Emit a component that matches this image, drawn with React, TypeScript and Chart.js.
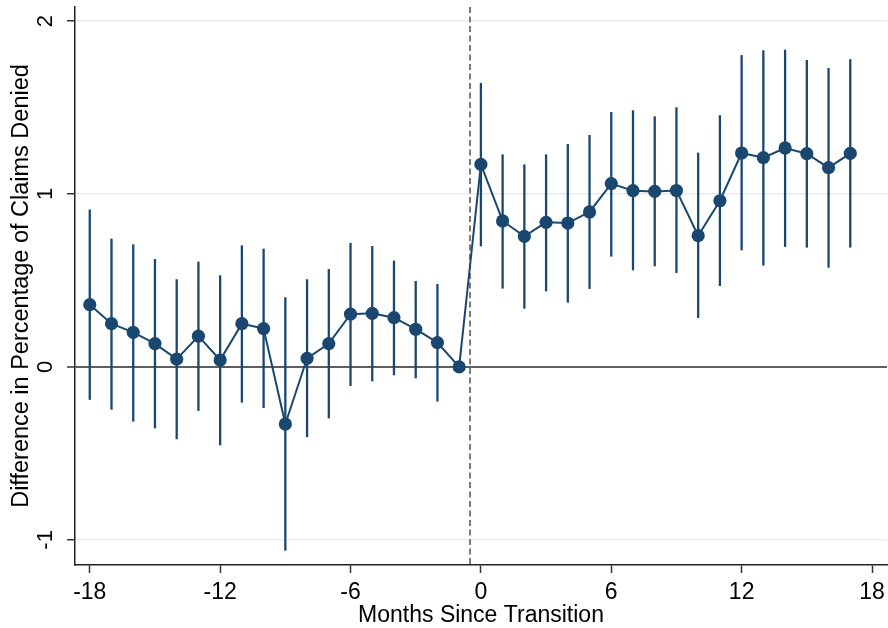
import React, { useEffect, useRef } from "react";
import { Chart, registerables } from "chart.js";

Chart.register(...registerables);

const months = [-18, -17, -16, -15, -14, -13, -12, -11, -10, -9, -8, -7, -6, -5, -4, -3, -2, -1, 0, 1, 2, 3, 4, 5, 6, 7, 8, 9, 10, 11, 12, 13, 14, 15, 16, 17];
const estimates = [0.36, 0.25, 0.2, 0.135, 0.045, 0.178, 0.04, 0.25, 0.222, -0.33, 0.05, 0.135, 0.305, 0.31, 0.285, 0.218, 0.141, 0, 1.171, 0.844, 0.755, 0.836, 0.832, 0.896, 1.06, 1.019, 1.015, 1.02, 0.759, 0.961, 1.237, 1.21, 1.266, 1.233, 1.152, 1.235];
const ciLow = [-0.19, -0.247, -0.316, -0.355, -0.418, -0.254, -0.453, -0.206, -0.237, -1.062, -0.406, -0.297, -0.11, -0.083, -0.048, -0.066, -0.2, null, 0.698, 0.453, 0.337, 0.437, 0.372, 0.451, 0.638, 0.559, 0.582, 0.543, 0.283, 0.468, 0.674, 0.586, 0.694, 0.69, 0.574, 0.69];
const ciHigh = [0.91, 0.742, 0.709, 0.624, 0.507, 0.609, 0.53, 0.703, 0.684, 0.403, 0.507, 0.566, 0.717, 0.699, 0.615, 0.497, 0.48, null, 1.642, 1.229, 1.171, 1.229, 1.289, 1.341, 1.474, 1.484, 1.449, 1.501, 1.239, 1.455, 1.803, 1.831, 1.834, 1.775, 1.728, 1.779];
const xTicks = [-18, -12, -6, 0, 6, 12, 18];
const yTicks = [-1, 0, 1, 2];
const yTickLabels = ["-1", "0", "1", "2"];
const transitionLine = -0.5;
const xTitle = "Months Since Transition";
const yTitle = "Difference in Percentage of Claims Denied";

const NAVY = "#1a476f";
const FONT = '"Liberation Sans", Arial, sans-serif';

const errorBarPlugin = {
  id: "errorBars",
  beforeDatasetsDraw(chart: any) {
    const { ctx, scales } = chart;
    const xs = scales.x;
    const ys = scales.y;
    const area = chart.chartArea;
    ctx.save();
    const xp = xs.getPixelForValue(transitionLine);
    ctx.strokeStyle = "#7a7a7a";
    ctx.lineWidth = 2;
    ctx.setLineDash([6, 3.5]);
    ctx.beginPath();
    ctx.moveTo(xp, area.top);
    ctx.lineTo(xp, area.bottom);
    ctx.stroke();
    ctx.setLineDash([]);
    ctx.strokeStyle = NAVY;
    ctx.lineWidth = 2.3;
    months.forEach((m, i) => {
      const lo = ciLow[i];
      const hi = ciHigh[i];
      if (lo == null || hi == null) return;
      const x = xs.getPixelForValue(m);
      ctx.beginPath();
      ctx.moveTo(x, ys.getPixelForValue(lo));
      ctx.lineTo(x, ys.getPixelForValue(hi));
      ctx.stroke();
    });
    ctx.restore();
  },
  afterDraw(chart: any) {
    const { ctx, scales } = chart;
    const ys = scales.y;
    ctx.save();
    ctx.fillStyle = "#000";
    ctx.font = `22px ${FONT}`;
    ctx.textAlign = "center";
    ctx.textBaseline = "middle";
    yTicks.forEach((v, i) => {
      const y = ys.getPixelForValue(v);
      ctx.save();
      ctx.translate(46, y);
      ctx.rotate(-Math.PI / 2);
      ctx.fillText(yTickLabels[i], 0, 0);
      ctx.restore();
    });
    ctx.restore();
  },
};

export default function App() {
  const ref = useRef<HTMLCanvasElement | null>(null);
  useEffect(() => {
    if (!ref.current) return;
    const chart = new Chart(ref.current, {
      type: "line",
      data: {
        datasets: [
          {
            data: months.map((m, i) => ({ x: m, y: estimates[i] })),
            borderColor: NAVY,
            backgroundColor: NAVY,
            borderWidth: 2,
            pointRadius: 6.6,
            pointBorderWidth: 0,
            pointBackgroundColor: NAVY,
            tension: 0,
            clip: false,
          },
        ],
      },
      plugins: [errorBarPlugin],
      options: {
        animation: false,
        responsive: true,
        maintainAspectRatio: false,
        layout: { autoPadding: false, padding: { top: 7, right: 1, left: 0, bottom: 0 } },
        plugins: { legend: { display: false }, tooltip: { enabled: false } },
        scales: {
          x: {
            type: "linear",
            min: -18.68,
            max: 18.69,
            afterBuildTicks: (s: any) => {
              s.ticks = xTicks.map((v) => ({ value: v }));
            },
            afterFit: (s: any) => {
              s.height = 63;
              s.paddingLeft = 0;
              s.paddingRight = 0;
            },
            ticks: {
              color: "#000",
              font: { family: FONT, size: 23 },
              padding: 6,
              maxRotation: 0,
              autoSkip: false,
              callback: (v: any) => String(v),
            },
            grid: {
              drawOnChartArea: false,
              drawTicks: true,
              tickLength: 8,
              tickColor: "#333",
              tickWidth: 1.5,
            },
            border: { display: true, color: "#222", width: 1.5 },
            title: {
              display: true,
              text: xTitle,
              color: "#000",
              font: { family: FONT, size: 23, lineHeight: 1 },
              padding: { top: 0, bottom: 0.5 },
            },
          },
          y: {
            type: "linear",
            min: -1.145,
            max: 2.081,
            afterBuildTicks: (s: any) => {
              s.ticks = yTicks.map((v) => ({ value: v }));
            },
            afterFit: (s: any) => {
              s.width = 75;
              s.paddingTop = 0;
              s.paddingBottom = 0;
            },
            ticks: { display: false },
            grid: {
              drawOnChartArea: true,
              drawTicks: true,
              tickLength: 8,
              color: (c: any) => (c.tick && c.tick.value === 0 ? "#5e5e5e" : "#ebebeb"),
              lineWidth: (c: any) => (c.tick && c.tick.value === 0 ? 2 : 1.5),
              tickColor: "#333",
              tickWidth: 1.5,
            },
            border: { display: true, color: "#222", width: 1.5 },
            title: {
              display: true,
              text: yTitle,
              color: "#000",
              font: { family: FONT, size: 23.5 },
              padding: { top: 7.3, bottom: 0 },
            },
          },
        },
      },
    });
    return () => chart.destroy();
  }, []);
  return (
    <div style={{ position: "fixed", left: 0, top: 0, width: 888, height: 628, background: "#fff" }}>
      <canvas ref={ref} />
    </div>
  );
}
